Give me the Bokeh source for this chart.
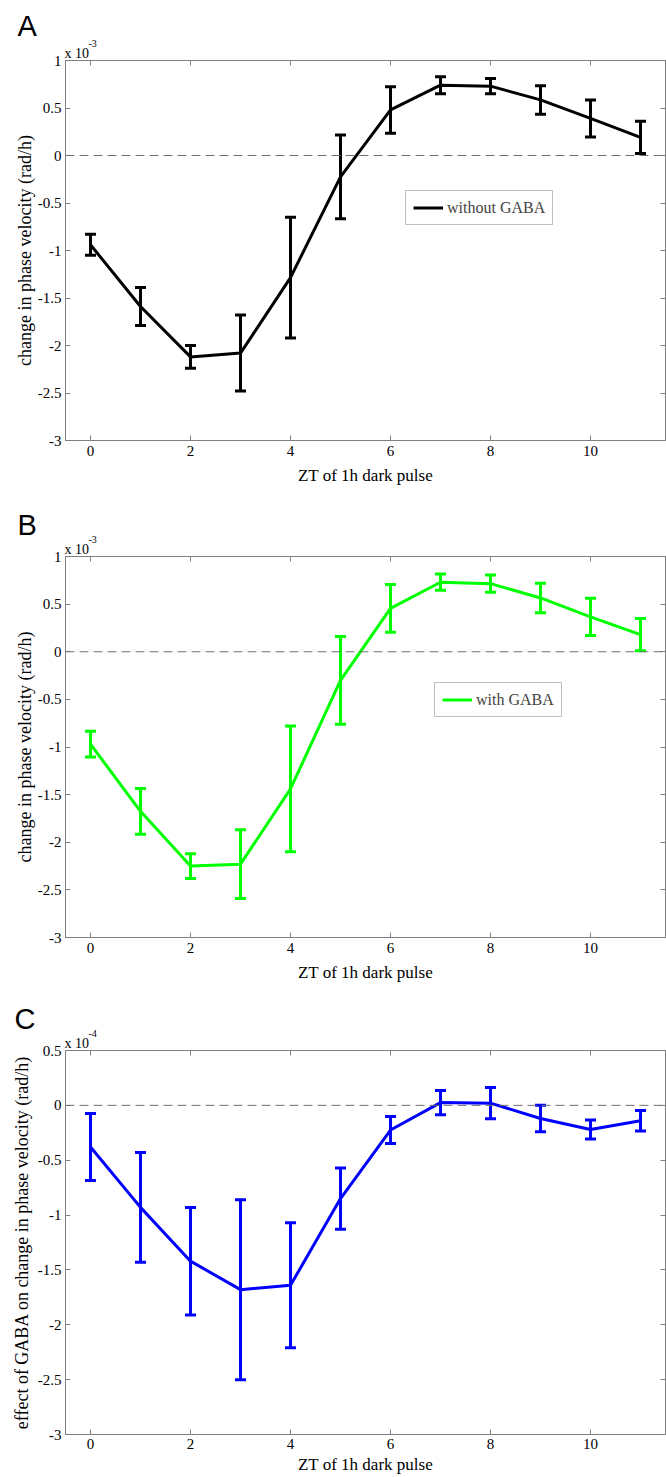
from bokeh.plotting import figure
from bokeh.layouts import column
from bokeh.models import (Range1d, FixedTicker, CustomJSTickFormatter, LinearAxis, Span,
                          Title, Whisker, TeeHead, ColumnDataSource, Legend, LegendItem)
from bokeh.embed import file_html
from bokeh.resources import INLINE

# ---------------- data ----------------
zt = list(range(12))
x_ticks = [0, 2, 4, 6, 8, 10]
y_ticks_ab = [-3, -2.5, -2, -1.5, -1, -0.5, 0, 0.5, 1]
y_ticks_c = [-3, -2.5, -2, -1.5, -1, -0.5, 0, 0.5]

# panel A: without GABA (x 10^-3 rad/h)
a_mean = [-0.94, -1.59, -2.12, -2.08, -1.285, -0.225, 0.48, 0.74, 0.73, 0.585, 0.39, 0.19]
a_err = [0.11, 0.20, 0.12, 0.40, 0.635, 0.44, 0.245, 0.09, 0.08, 0.15, 0.195, 0.17]
# panel B: with GABA (x 10^-3 rad/h)
b_mean = [-0.97, -1.675, -2.25, -2.23, -1.44, -0.30, 0.455, 0.73, 0.715, 0.565, 0.366, 0.18]
b_err = [0.135, 0.24, 0.13, 0.36, 0.66, 0.46, 0.25, 0.085, 0.09, 0.155, 0.195, 0.17]
# panel C: effect of GABA (x 10^-4 rad/h)
c_mean = [-0.38, -0.93, -1.42, -1.68, -1.64, -0.85, -0.225, 0.025, 0.02, -0.12, -0.22, -0.14]
c_err = [0.305, 0.50, 0.49, 0.82, 0.57, 0.28, 0.123, 0.11, 0.143, 0.12, 0.087, 0.094]

SERIF = "Liberation Serif"
SANS = "Liberation Sans"
GRAY = "#808080"


def style_axis(ax):
    ax.axis_line_color = GRAY
    ax.major_tick_line_color = GRAY
    ax.major_tick_in = 5
    ax.major_tick_out = 0
    ax.minor_tick_line_color = None
    ax.major_label_text_font = SERIF
    ax.major_label_text_font_size = "15px"
    ax.major_label_text_color = "black"
    ax.axis_label_text_font = SERIF
    ax.axis_label_text_font_style = "normal"
    ax.axis_label_text_color = "black"


def panel(letter, mean, err, color, ymax, yticks, exponent, ylab, legend_label,
          h, left, top, bottom, legend_loc, letter_standoff,
          xl_standoff, xa_standoff, ya_standoff):
    p = figure(width=666, height=h, x_range=Range1d(-0.5, 11.5), y_range=Range1d(-3, ymax),
               output_backend="svg", toolbar_location=None,
               min_border_left=left, min_border_right=1, min_border_top=top,
               min_border_bottom=bottom,
               x_axis_label="ZT of 1h dark pulse", y_axis_label=ylab)
    p.xgrid.visible = False
    p.ygrid.visible = False
    p.outline_line_color = GRAY
    p.background_fill_color = "white"
    p.border_fill_color = "white"

    for ax in p.xaxis + p.yaxis:
        style_axis(ax)
    p.xaxis.axis_label_text_font_size = "17px"
    p.yaxis.axis_label_text_font_size = "18px"
    p.xaxis.ticker = FixedTicker(ticks=x_ticks)
    p.yaxis.ticker = FixedTicker(ticks=yticks)
    p.yaxis.formatter = CustomJSTickFormatter(code="return String(Math.round(tick*10)/10);")
    p.xaxis.major_label_standoff = xl_standoff
    p.xaxis.axis_label_standoff = xa_standoff
    p.yaxis.major_label_standoff = 4
    p.yaxis.axis_label_standoff = ya_standoff

    blank = "return '';"
    top_ax = LinearAxis(ticker=FixedTicker(ticks=x_ticks), formatter=CustomJSTickFormatter(code=blank))
    right_ax = LinearAxis(ticker=FixedTicker(ticks=yticks), formatter=CustomJSTickFormatter(code=blank))
    for ax in (top_ax, right_ax):
        style_axis(ax)
        ax.major_label_text_font_size = "0px"
        ax.major_label_standoff = 0
    p.add_layout(top_ax, "above")
    p.add_layout(right_ax, "right")

    # "x 10" with its exponent above it, and the panel letter on top
    p.add_layout(Title(text="x 10", align="left", offset=-1, standoff=0,
                       text_font=SERIF, text_font_size="14px", text_font_style="normal",
                       text_color="black"), "above")
    p.add_layout(Title(text=exponent, align="left", offset=23, standoff=-6,
                       text_font=SERIF, text_font_size="10px", text_font_style="normal",
                       text_color="black"), "above")
    p.add_layout(Title(text=letter, align="left", offset=14 - left, standoff=letter_standoff,
                       text_font=SANS, text_font_size="29px", text_font_style="normal",
                       text_color="black"), "above")

    p.add_layout(Span(location=0, dimension="width", line_color="#707070",
                      line_dash="9 5", line_width=1))

    r = p.line(zt, mean, line_color=color, line_width=3)
    src = ColumnDataSource(dict(x=zt,
                                upper=[m + e for m, e in zip(mean, err)],
                                lower=[m - e for m, e in zip(mean, err)]))
    p.add_layout(Whisker(source=src, base="x", upper="upper", lower="lower",
                         line_color=color, line_width=3,
                         upper_head=TeeHead(size=11, line_color=color, line_width=3),
                         lower_head=TeeHead(size=11, line_color=color, line_width=3)))

    if legend_label:
        leg = Legend(items=[LegendItem(label=legend_label, renderers=[r])],
                     location=legend_loc, margin=0, padding=7, spacing=0,
                     glyph_width=30, glyph_height=19, label_height=19, label_standoff=4,
                     border_line_color=GRAY, border_line_width=1,
                     label_text_font=SERIF, label_text_font_size="16px",
                     background_fill_alpha=1.0)
        p.add_layout(leg)
    return p


pA = panel("A", a_mean, a_err, "#000000", 1, y_ticks_ab, "-3",
           "change in phase velocity (rad/h)", "without GABA",
           h=495, left=62, top=60, bottom=55, legend_loc=(340, 215), letter_standoff=-3,
           xl_standoff=5, xa_standoff=7, ya_standoff=0)
pB = panel("B", b_mean, b_err, "#00ff00", 1, y_ticks_ab, "-3",
           "change in phase velocity (rad/h)", "with GABA",
           h=495, left=62, top=61, bottom=53, legend_loc=(369, 220), letter_standoff=-9,
           xl_standoff=5, xa_standoff=7, ya_standoff=0)
pC = panel("C", c_mean, c_err, "#0000ff", 0.5, y_ticks_c, "-4",
           "effect of GABA on change in phase velocity (rad/h)", None,
           h=487, left=65, top=60, bottom=43, legend_loc=None, letter_standoff=-9,
           xl_standoff=4, xa_standoff=3, ya_standoff=3)

layout = column(pA, pB, pC, spacing=0)
open("out.html", "w").write(file_html(layout, INLINE))
